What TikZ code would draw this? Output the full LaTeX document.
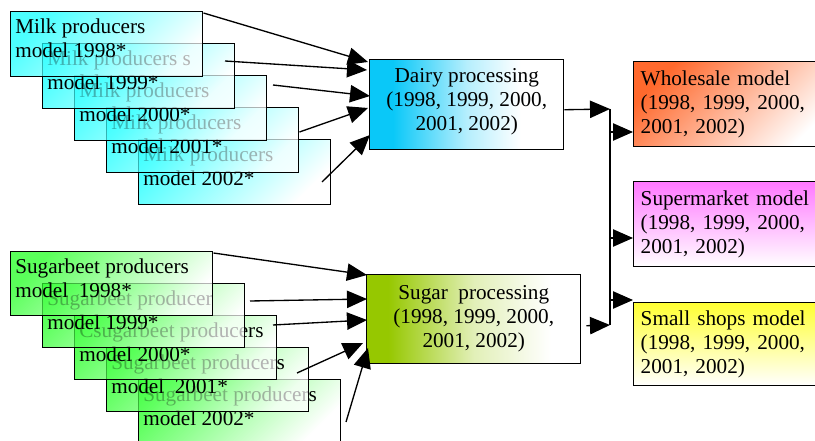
\documentclass[tikz,border=0pt]{standalone}
\usepackage{fontspec}
\setmainfont{Liberation Serif}
\usetikzlibrary{arrows.meta}
\definecolor{milkc}{RGB}{0,255,255}
\definecolor{sugc}{RGB}{20,255,20}
\definecolor{dairyc}{RGB}{10,200,248}
\definecolor{sugarc}{RGB}{150,200,0}
\definecolor{wholec}{RGB}{255,105,45}
\definecolor{superc}{RGB}{255,120,255}
\definecolor{smallc}{RGB}{255,255,50}
\pgfdeclarehorizontalshading{dairysh}{100bp}{color(0bp)=(dairyc); color(25bp)=(dairyc); color(31bp)=(dairyc); color(50bp)=(dairyc!30!white); color(64bp)=(white); color(100bp)=(white)}
\pgfdeclarehorizontalshading{sugarsh}{100bp}{color(0bp)=(sugarc); color(25bp)=(sugarc); color(30bp)=(sugarc); color(50bp)=(sugarc!28!white); color(68bp)=(white); color(100bp)=(white)}
\newcommand{\prodlines}[1]{\parbox[t]{200pt}{\fontsize{15.9pt}{18pt}\selectfont #1}}
\begin{document}
\begin{tikzpicture}[x=0.75pt,y=-0.75pt,
  font=\fontsize{15.9pt}{18pt}\selectfont,
  prodbox/.style={draw=black, line width=1.1pt, rectangle, inner sep=0pt, anchor=north west, fill opacity=0.7, minimum height=48.75pt},
  milkbox/.style={prodbox, minimum width=144pt, top color=milkc, middle color=milkc!35!white, bottom color=white, shading angle=45},
  sugarbox/.style={prodbox, minimum width=151.5pt, minimum height=48pt, top color=sugc, middle color=sugc!35!white, bottom color=white, shading angle=45},
  ptxt/.style={anchor=base west, inner sep=0pt},
  procbox/.style={draw=black, line width=1.1pt, rectangle, inner sep=0pt, anchor=north west},
  proctxt/.style={inner sep=0pt, align=center},
  rbox/.style={draw=black, line width=1.1pt, rectangle, anchor=north west, minimum height=63.75pt, text width=139.5pt, inner xsep=5.25pt, inner ysep=0pt, align=left},
  arr/.style={-{Triangle[length=15pt,width=13pt]}, line width=1pt},
  bus/.style={line width=1pt}]
\useasboundingbox (0,0) rectangle (815,441);
\clip (0,0) rectangle (815,441);

% Milk producer boxes (back to front)
\node[milkbox] (m5) at (138,139) {};
\node[ptxt] (m5t) at ([shift={(5,23)}]m5.north west) {\prodlines{Milk producers\\model 2002*}};
\node[milkbox] (m4) at (106,107) {};
\node[ptxt] (m4t) at ([shift={(5,23)}]m4.north west) {\prodlines{Milk producers\\model 2001*}};
\node[milkbox] (m3) at (74,75) {};
\node[ptxt] (m3t) at ([shift={(5,23)}]m3.north west) {\prodlines{Milk producers\\model 2000*}};
\node[milkbox] (m2) at (42,43) {};
\node[ptxt] (m2t) at ([shift={(5,23)}]m2.north west) {\prodlines{Milk producers s\\model 1999*}};
\node[milkbox] (m1) at (10,11) {};
\node[ptxt] (m1t) at ([shift={(5,23)}]m1.north west) {\prodlines{Milk producers\\model 1998*}};

% Sugarbeet producer boxes (back to front)
\node[sugarbox] (s5) at (138,379) {};
\node[ptxt] (s5t) at ([shift={(5,23)}]s5.north west) {\prodlines{Sugarbeet producers\\model 2002*}};
\node[sugarbox] (s4) at (106,347) {};
\node[ptxt] (s4t) at ([shift={(5,23)}]s4.north west) {\prodlines{Sugarbeet producers\\model~ 2001*}};
\node[sugarbox] (s3) at (74,315) {};
\node[ptxt] (s3t) at ([shift={(5,23)}]s3.north west) {\prodlines{Csugarbeet producers\\model 2000*}};
\node[sugarbox] (s2) at (42,283) {};
\node[ptxt] (s2t) at ([shift={(5,23)}]s2.north west) {\prodlines{Sugarbeet producer\\model 1999*}};
\node[sugarbox] (s1) at (10,251) {};
\node[ptxt] (s1t) at ([shift={(5,23)}]s1.north west) {\prodlines{Sugarbeet producers\\model~ 1998*}};

% Processing boxes
\node[procbox, shading=dairysh, minimum width=145.5pt, minimum height=67.5pt] (dairy) at (369,59) {};
\node[proctxt] (dairyt) at ([shift={(0,-3)}]dairy.center) {Dairy processing\\(1998, 1999, 2000,\\2001, 2002)};
\node[procbox, shading=sugarsh, minimum width=160.5pt, minimum height=66.75pt] (sugar) at (366,274) {};
\node[proctxt] (sugart) at (sugar.center) {Sugar~ processing\\(1998, 1999, 2000,\\2001, 2002)};

% Retail boxes
\node[rbox, top color=wholec, bottom color=white, shading angle=45] (whole) at (633,61) {Wholesale model\\(1998, 1999, 2000,\\2001, 2002)};
\node[rbox, top color=superc, bottom color=white] (super) at (633,181) {Supermarket model\\(1998, 1999, 2000,\\2001, 2002)};
\node[rbox, top color=smallc, bottom color=white, minimum height=62.25pt] (small) at (633,302) {Small shops model\\(1998, 1999, 2000,\\2001, 2002)};

% Milk -> dairy arrows
\draw[arr] ([shift={(0,2)}]m1.north east) -- ([shift={(-1,3)}]dairy.north west);
\draw[arr] ([shift={(183,18)}]m2.north west) -- ([shift={(-2,11)}]dairy.north west);
\draw[arr] ([shift={(199,10)}]m3.north west) -- ([shift={(1,37)}]dairy.north west);
\draw[arr] ([shift={(0,25)}]m4.north east) -- ([shift={(-1,49)}]dairy.north west);
\draw[arr] ([shift={(184,43)}]m5.north west) -- ([shift={(1,76)}]dairy.north west);

% Sugarbeet -> sugar arrows
\draw[arr] ([shift={(0,2)}]s1.north east) -- ([shift={(1,1)}]sugar.north west);
\draw[arr] ([shift={(208,18)}]s2.north west) -- ([shift={(1,25)}]sugar.north west);
\draw[arr] ([shift={(199,10)}]s3.north west) -- ([shift={(1,46)}]sugar.north west);
\draw[arr] ([shift={(191,26)}]s4.north west) -- ([shift={(-3,69)}]sugar.north west);
\draw[arr] ([shift={(208,43)}]s5.north west) -- ([shift={(2,74)}]sugar.north west);

% Bus
\coordinate (bustop) at (610,109);
\coordinate (busbot) at (610,325);
\draw[bus] (bustop) -- (busbot);
\draw[arr] ([shift={(0,5)}]dairy.east) -- (bustop);
\draw[arr] ([shift={(5,6.5)}]sugar.east) -- (busbot);
\draw[arr] ([shift={(-23,71)}]whole.north west) -- ([shift={(0,71)}]whole.north west);
\draw[arr] ([shift={(-23,57)}]super.north west) -- ([shift={(0,57)}]super.north west);
\draw[arr] ([shift={(-23,-2)}]small.north west) -- ([shift={(0,-2)}]small.north west);
\end{tikzpicture}
\end{document}
